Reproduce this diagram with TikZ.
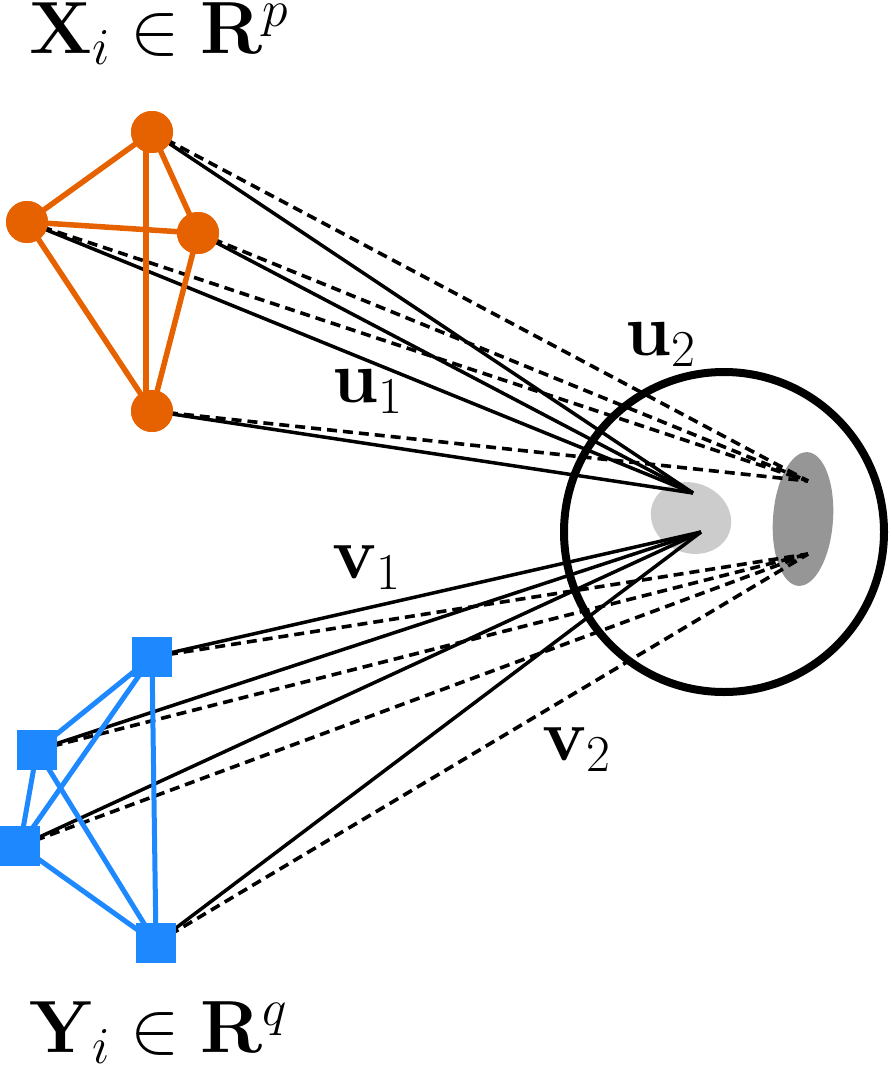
\RequirePackage{fix-cm}
\documentclass[tikz,border=0pt]{standalone}
\definecolor{orng}{RGB}{230,98,0}
\definecolor{blu}{RGB}{30,136,255}
\definecolor{lgray}{RGB}{204,204,204}
\definecolor{dgray}{RGB}{150,150,150}
\tikzset{
  onode/.style={circle,fill=orng,inner sep=0pt,minimum size=42pt},
  bnode/.style={rectangle,fill=blu,inner sep=0pt,minimum size=40pt},
  oedge/.style={draw=orng,line width=5.5pt},
  bedge/.style={draw=blu,line width=5pt},
  sline/.style={draw=black,line width=3.5pt},
  dline/.style={draw=black,line width=3.6pt,dash pattern=on 10pt off 6pt},
  lab/.style={anchor=base west,inner sep=0pt,font=\fontsize{74}{88}\selectfont}
}
\begin{document}
\begin{tikzpicture}[x=1pt,y=-1pt]
\useasboundingbox (0,0) rectangle (891,1068);
% ellipses and circle
\fill[lgray,rotate around={-22:(691,518)}] (691,518) ellipse [x radius=41, y radius=35];
\fill[dgray,rotate around={-4:(803,519)}] (803,519) ellipse [x radius=30, y radius=67];
\draw[line width=8pt] (724,532) circle [radius=160];
% nodes (positions)
\node[onode] (o1) at (152,132) {};
\node[onode] (o2) at (27,222) {};
\node[onode] (o3) at (198,233) {};
\node[onode] (o4) at (152,411) {};
\node[bnode] (b1) at (152,657) {};
\node[bnode] (b2) at (37,750) {};
\node[bnode] (b3) at (20,846) {};
\node[bnode] (b4) at (156,943) {};
\coordinate (us) at (693,493);
\coordinate (ud) at (808,481);
\coordinate (vs) at (701,532);
\coordinate (vd) at (808,554);
% projection lines
\foreach \n in {o1,o2,o3,o4}{
  \draw[dline] (\n.center) -- (ud);
  \draw[sline] (\n.center) -- (us);
}
\foreach \n in {b1,b2,b3,b4}{
  \draw[dline] (\n.center) -- (vd);
  \draw[sline] (\n.center) -- (vs);
}
% graph edges
\draw[oedge] (o1.center) -- (o2.center);
\draw[oedge] (o1.center) -- (o3.center);
\draw[oedge] (146,132) -- (146,411);
\draw[oedge] (o2.center) -- (o3.center);
\draw[oedge] (o2.center) -- (o4.center);
\draw[oedge] (o3.center) -- (o4.center);
\draw[bedge] (b1.center) -- (b2.center);
\draw[bedge] (b1.center) -- (b3.center);
\draw[bedge] (b1.center) -- (b4.center);
\draw[bedge] (b2.center) -- (b3.center);
\draw[bedge] (b2.center) -- (b4.center);
\draw[bedge] (b3.center) -- (b4.center);
% redraw nodes on top
\node[onode] at (o1) {};
\node[onode] at (o2) {};
\node[onode] at (o3) {};
\node[onode] at (o4) {};
\node[bnode] at (b1) {};
\node[bnode] at (b2) {};
\node[bnode] at (b3) {};
\node[bnode] at (b4) {};
% labels
\node[lab] (tx) at (29,53) {$\mathbf{X}_i \in \mathbf{R}^p$};
\node[lab] (ty) at (29,1052) {$\mathbf{Y}_i \in \mathbf{R}^q$};
\node[lab] (u1) at (332,402) {$\mathbf{u}_1$};
\node[lab] (u2) at (625,355) {$\mathbf{u}_2$};
\node[lab] (v1) at (332,578) {$\mathbf{v}_1$};
\node[lab] (v2) at (542,760) {$\mathbf{v}_2$};
\end{tikzpicture}
\end{document}
